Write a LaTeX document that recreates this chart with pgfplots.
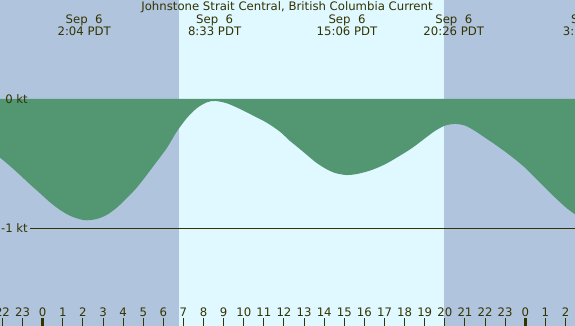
\documentclass[border=0pt]{standalone}
\usepackage{pgfplots}
\pgfplotsset{compat=1.18}
\usepackage{fontspec}
\setmainfont{DejaVu Sans}
\definecolor{night}{RGB}{176,196,222}
\definecolor{day}{RGB}{224,248,255}
\definecolor{curfill}{RGB}{82,150,114}
\definecolor{txt}{RGB}{51,51,0}
\begin{document}
\begin{tikzpicture}
\useasboundingbox (0,0) rectangle (575pt,326pt);
\clip (0,0) rectangle (575pt,326pt);
\begin{axis}[
  at={(0,0)}, anchor=south west,
  width=575pt, height=326pt, scale only axis,
  xmin=-2.1235, xmax=26.473,
  ymin=-1.7556, ymax=0.7657,
  axis on top,
  axis line style={draw=none},
  ytick=\empty,
  xtick={-2,...,26},
  xticklabels={22,23,0,1,2,3,4,5,6,7,8,9,10,11,12,13,14,15,16,17,18,19,20,21,22,23,0,1,2},
  extra x ticks={0,24},
  extra x tick labels={},
  extra x tick style={major tick style={line width=3pt}},
  xtick pos=bottom,
  tick align=inside,
  major tick length=8pt,
  tick style={color=txt, line width=1pt},
  xticklabel style={anchor=base, yshift=9.3pt, text=txt, font=\fontsize{11.7}{13}\selectfont},
  /pgf/number format/assume math mode=true,
  clip=true,
]
\addplot[fill=night, draw=none] coordinates {(-3,-2) (6.764,-2) (6.764,1) (-3,1)};
\addplot[fill=day, draw=none] coordinates {(6.764,-2) (19.96,-2) (19.96,1) (6.764,1)};
\addplot[fill=night, draw=none] coordinates {(19.96,-2) (27,-2) (27,1) (19.96,1)};
\addplot[fill=curfill, draw=none, smooth, tension=0.5] coordinates {
(-2.3,0) (-2.3,-0.44) (-2.124,-0.454) (-1.627,-0.518) (-1.129,-0.588) (-0.632,-0.660) (-0.134,-0.729)
(0.363,-0.799) (0.861,-0.858) (1.358,-0.903) (1.855,-0.930) (2.188,-0.938) (2.686,-0.928)
(3.183,-0.897) (3.680,-0.841) (4.177,-0.768) (4.675,-0.686) (5.172,-0.588) (5.669,-0.485)
(6.167,-0.381) (6.664,-0.253) (7.161,-0.149) (7.659,-0.072) (8.156,-0.026) (8.569,-0.015)
(9.151,-0.033) (9.812,-0.077) (10.474,-0.129) (11.140,-0.183) (11.801,-0.253) (12.299,-0.325)
(12.547,-0.356) (13.045,-0.420) (13.542,-0.485) (14.039,-0.536) (14.537,-0.572) (15.119,-0.588)
(15.695,-0.578) (16.362,-0.549) (17.023,-0.505) (17.685,-0.446) (18.351,-0.381) (19.013,-0.304)
(19.510,-0.247) (20.007,-0.206) (20.504,-0.193) (21.002,-0.206) (21.499,-0.247) (21.996,-0.299)
(22.658,-0.369) (23.324,-0.446) (23.986,-0.531) (24.647,-0.634) (25.313,-0.737) (25.974,-0.833)
(26.471,-0.892) (26.7,-0.92) (26.7,0)};
\addplot[draw=txt, line width=1pt] coordinates {(-0.63,-1) (27,-1)};
\end{axis}
\begin{scope}[every node/.style={text=txt, font=\fontsize{11.7}{13}\selectfont, inner sep=0pt}]
\node[anchor=base] at (287pt,315pt) {Johnstone Strait Central, British Columbia Current};
\node[anchor=base] at (84.2pt,302.3pt) {Sep\ \ 6};
\node[anchor=base] at (84.2pt,290.3pt) {2:04 PDT};
\node[anchor=base] at (214.6pt,302.3pt) {Sep\ \ 6};
\node[anchor=base] at (214.6pt,290.3pt) {8:33 PDT};
\node[anchor=base] at (347pt,302.3pt) {Sep\ \ 6};
\node[anchor=base] at (347pt,290.3pt) {15:06 PDT};
\node[anchor=base] at (453.8pt,302.3pt) {Sep\ \ 6};
\node[anchor=base] at (453.8pt,290.3pt) {20:26 PDT};
\node[anchor=base] at (589.5pt,302.3pt) {Sep\ \ 7};
\node[anchor=base] at (589.5pt,290.3pt) {3:11 PDT};
\node[anchor=base east] at (28pt,222.8pt) {0 kt};
\node[anchor=base east] at (28pt,93.7pt) {-1 kt};
\end{scope}
\end{tikzpicture}
\end{document}
